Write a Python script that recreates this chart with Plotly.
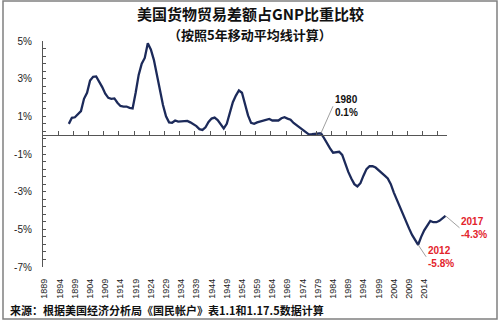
import plotly.graph_objects as go

years = list(range(1897, 2022))
values = [
    0.60, 0.92, 0.95, 1.10, 1.28, 1.93, 2.25, 2.90, 3.10, 3.12,   # 1897-1906
    2.85, 2.55, 2.20, 1.98, 1.93, 1.95, 1.72, 1.55, 1.52, 1.52,   # 1907-1916
    1.45, 1.42, 2.25, 3.20, 3.80, 4.10, 4.88, 4.55, 4.00, 3.20,   # 1917-1926
    2.30, 1.60, 1.00, 0.68, 0.66, 0.78, 0.72, 0.74, 0.77, 0.76,   # 1927-1936
    0.68, 0.60, 0.48, 0.32, 0.28, 0.42, 0.70, 0.88, 0.93, 0.80,   # 1937-1946
    0.55, 0.36, 0.60, 1.20, 1.75, 2.10, 2.37, 2.25, 1.60, 1.05,   # 1947-1956
    0.65, 0.60, 0.68, 0.72, 0.78, 0.80, 0.86, 0.78, 0.77, 0.78,   # 1957-1966
    0.90, 0.95, 0.88, 0.82, 0.65, 0.52, 0.42, 0.30, 0.12, 0.04,   # 1967-1976
    0.05, 0.07, 0.12, 0.10, -0.15, -0.45, -0.70, -0.93, -0.92, -0.88,  # 1977-1986
    -1.05, -1.55, -1.95, -2.30, -2.60, -2.72, -2.55, -2.15, -1.80, -1.65,  # 1987-1996
    -1.65, -1.72, -1.85, -2.00, -2.15, -2.30, -2.60, -3.05, -3.45, -3.85,  # 1997-2006
    -4.20, -4.60, -4.95, -5.30, -5.60, -5.82, -5.40, -5.05, -4.80, -4.55,  # 2007-2016
    -4.62, -4.62, -4.55, -4.40, -4.28,                                    # 2017-2021
]

tick_years = list(range(1889, 2015, 5))
tick_labels = [str(y) for y in tick_years]
boundary_ticks = [y - 0.5 for y in range(1889, 2020, 5)]
y_ticks = [-7, -5, -3, -1, 1, 3, 5]
y_labels = ["-7%", "-5%", "-3%", "-1%", "1%", "3%", "5%"]

title = "<b>美国货物贸易差额占GNP比重比较</b>"
subtitle = "<b>（按照5年移动平均线计算）</b>"
source = "<b>来源：根据美国经济分析局《国民帐户》表1.1和1.17.5数据计算</b>"

callouts = [
    (1980, "1980<br>0.1%", "#111111", 12, -27),
    (2012, "2012<br>-5.8%", "#e3232b", 8, 12),
    (2021, "2017<br>-4.3%", "#e3232b", 14, 12),
]

YMIN, YMAX = -7, 5
XMIN, XMAX = 1888.5, 2021.5

fig = go.Figure()
fig.add_trace(go.Scatter(x=years, y=values, mode="lines",
                         line=dict(color="#1c2a5a", width=2.3),
                         hoverinfo="skip", showlegend=False))
fig.add_trace(go.Scatter(x=years, y=values, mode="lines", xaxis="x2",
                         line=dict(color="rgba(0,0,0,0)", width=0),
                         hoverinfo="skip", showlegend=False))

axis_font = dict(family="Liberation Sans, Arial, sans-serif", size=10, color="#222222")
zero_pos = (0 - YMIN) / (YMAX - YMIN)

fig.update_layout(
    width=500, height=323,
    margin=dict(l=43, r=53, t=41, b=56),
    paper_bgcolor="white", plot_bgcolor="white",
    xaxis=dict(range=[XMIN, XMAX], tickvals=tick_years, ticktext=tick_labels,
               tickangle=-90, showline=False, showgrid=False, zeroline=False,
               ticks="", ticklabelstandoff=9,
               tickfont=dict(family="Liberation Sans, Arial, sans-serif", size=9, color="#222222")),
    xaxis2=dict(range=[XMIN, XMAX], overlaying="x", anchor="free", position=zero_pos,
                tickvals=boundary_ticks, showticklabels=False, ticks="inside", ticklen=4,
                tickcolor="#555555", showline=True, linecolor="#555555", linewidth=1.3,
                showgrid=False, zeroline=False),
    yaxis=dict(range=[YMIN, YMAX], tickvals=y_ticks, ticktext=y_labels,
               showline=True, linecolor="#555555", linewidth=1.3,
               ticks="inside", ticklen=3, tickcolor="#555555",
               minor=dict(dtick=0.4, tick0=-7, ticks="inside", ticklen=3, tickcolor="#555555"),
               showgrid=False, zeroline=False, ticklabelstandoff=8,
               tickfont=axis_font),
    font=dict(family="Noto Sans CJK SC, sans-serif"),
)

annotations = [
    dict(text=title, xref="paper", yref="paper", x=(250 - 43) / 404, y=(267 - 13) / 226,
         xanchor="center", yanchor="middle", showarrow=False,
         font=dict(family="Noto Sans CJK SC", size=15, color="#111111")),
    dict(text=subtitle, xref="paper", yref="paper", x=(250 - 43) / 404, y=(267 - 34) / 226,
         xanchor="center", yanchor="middle", showarrow=False,
         font=dict(family="Noto Sans CJK SC", size=13, color="#111111")),
    dict(text=source, xref="paper", yref="paper", x=(8 - 43) / 404, y=(267 - 310) / 226,
         xanchor="left", yanchor="middle", showarrow=False,
         font=dict(family="Noto Sans CJK SC", size=11, color="#111111")),
]
for yr, txt, col, ax, ay in callouts:
    v = values[years.index(yr)]
    annotations.append(dict(
        x=yr, y=v, xref="x", yref="y", text="<b>" + txt + "</b>", align="left",
        xanchor="left", yanchor="middle", showarrow=True, arrowhead=0,
        arrowwidth=1, arrowcolor="#a0a0a0", ax=ax, ay=ay,
        font=dict(family="Liberation Sans, Arial, sans-serif", size=10, color=col)))
fig.update_layout(annotations=annotations)

fig.add_shape(type="rect", xref="paper", yref="paper",
              x0=(3 - 43) / 404, x1=(497 - 43) / 404,
              y0=(267 - 319) / 226, y1=(267 - 1) / 226,
              line=dict(color="#808080", width=1.5), fillcolor="rgba(0,0,0,0)", layer="below")

fig.write_html("out.html")
